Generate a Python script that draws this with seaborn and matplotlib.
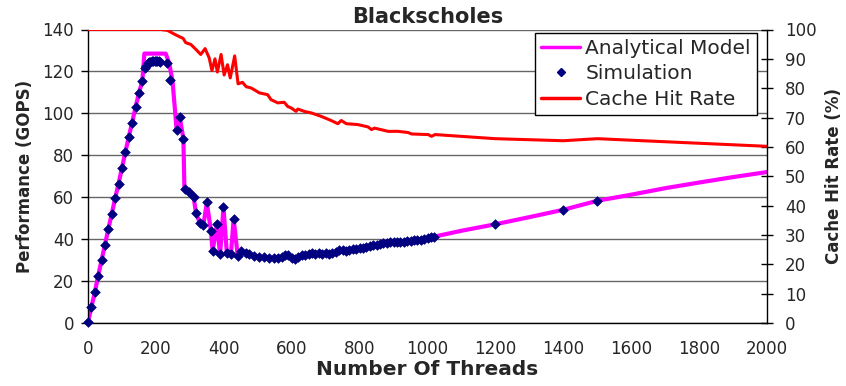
import matplotlib
matplotlib.use("Agg")
import matplotlib.pyplot as plt
import seaborn as sns
from matplotlib.lines import Line2D

# ---- data ----
sim_threads = [0, 10, 20, 30, 40, 50, 60, 70, 80, 90, 100, 110, 120, 130, 140, 150, 160, 167,
               172, 176, 180, 184, 188, 192, 196, 200, 204, 208, 212, 232, 242,
               261, 270, 281, 285, 298, 311, 318, 330, 340, 350, 362, 367, 380, 389, 399,
               409, 421, 429, 441, 452, 465, 475, 490, 505, 519, 534, 549, 560,
               570, 580, 590, 600, 610, 620, 630, 640, 650, 660, 670, 680, 690, 700,
               710, 720, 730, 740, 750, 760, 770, 780, 790, 800, 810, 820, 830, 840,
               850, 860, 870, 880, 890, 900, 910, 920, 930, 940, 950, 960, 970, 980,
               990, 1000, 1010, 1020, 1200, 1400, 1500]
sim_gops = [0.6, 7.5, 14.7, 22.5, 30.0, 37.4, 44.9, 52.2, 59.5, 66.5, 74.0, 81.5, 88.8, 95.6, 103.0, 109.6, 115.5, 121.6,
            122.8, 123.8, 124.3, 124.6, 124.8, 125.0, 125.0, 125.0, 125.0, 124.8, 124.6, 124.0, 115.8,
            92.2, 98.3, 87.8, 64.0, 62.7, 60.3, 52.4, 47.6, 46.8, 57.5, 44.0, 34.4, 47.3, 32.8, 55.1,
            33.3, 33.0, 49.7, 32.0, 34.5, 33.3, 32.8, 32.0, 31.4, 31.4, 31.2, 31.0, 30.9,
            31.5, 32.6, 32.4, 31.2, 30.5, 31.6, 32.4, 32.2, 33.0, 33.3, 32.8, 33.2, 33.0, 33.4,
            33.0, 33.2, 33.8, 34.6, 34.9, 34.4, 34.6, 35.2, 35.4, 35.8, 36.0, 36.4, 36.6, 37.2,
            37.2, 37.6, 38.0, 38.2, 38.4, 38.4, 38.6, 38.8, 38.8, 39.0, 39.2, 39.4, 39.6, 39.8,
            40.2, 40.6, 40.8, 41.2, 47.1, 54.0, 58.3]

model_threads = [0, 10, 20, 30, 40, 50, 60, 70, 80, 90, 100, 110, 120, 130, 140, 150, 160, 166,
                 229, 239, 249, 257, 261, 270, 281, 284,
                 298, 311, 318, 330, 340, 350, 362, 367, 380, 389, 399,
                 409, 421, 429, 441, 452, 465, 475, 490, 505, 519, 534, 549, 560,
                 580, 600, 620, 640, 660, 680, 700, 720, 740, 760, 780, 800, 820, 840,
                 860, 880, 900, 920, 940, 960, 980, 1000, 1020,
                 1100, 1200, 1300, 1400, 1500, 1600, 1700, 1800, 1900, 2000]
model_gops = [0.6, 7.5, 14.7, 22.5, 30.0, 37.4, 44.9, 52.2, 59.5, 66.5, 74.0, 81.5, 88.8, 95.6, 103.0, 109.6, 115.5, 128.5,
              128.5, 124.0, 115.3, 100.0, 92.2, 98.3, 87.8, 64.0,
              62.7, 60.3, 52.4, 47.6, 46.8, 57.5, 44.0, 34.4, 47.3, 32.8, 55.1,
              33.3, 33.0, 49.7, 32.0, 34.5, 33.3, 32.8, 32.0, 31.4, 31.4, 31.2, 31.0, 30.9,
              32.4, 31.2, 31.6, 32.2, 33.3, 33.2, 33.4, 33.2, 34.6, 34.4, 35.2, 35.8, 36.4, 37.2,
              37.6, 38.2, 38.4, 38.8, 39.0, 39.4, 39.8, 40.6, 41.2,
              44.0, 47.1, 50.5, 54.0, 58.3, 61.2, 64.3, 67.0, 69.6, 72.0]

cache_threads = [0, 214, 234, 253, 270, 280, 288, 303, 318, 332, 345, 357, 365, 374, 381, 392,
                 401, 411, 419, 432, 442, 455, 466, 480, 505, 529, 539, 559, 578, 588, 598,
                 613, 618, 637, 657, 687, 716, 736, 746, 761, 795, 825, 835, 844, 884, 913,
                 943, 953, 1002, 1012, 1022, 1200, 1400, 1500, 2000]
cache_rate = [100.0, 100.0, 99.7, 98.5, 97.5, 97.0, 95.5, 94.9, 93.2, 91.5, 93.5, 90.3, 86.0, 90.0, 85.5, 91.5,
              84.5, 88.0, 83.5, 91.0, 81.5, 82.0, 80.5, 80.1, 78.4, 77.8, 76.1, 75.0, 75.2, 73.8, 73.3,
              72.1, 72.9, 72.1, 71.6, 70.4, 69.0, 67.9, 69.0, 67.9, 67.6, 66.8, 65.9, 66.4, 65.3, 65.3,
              64.9, 64.4, 64.2, 63.6, 64.2, 62.8, 62.1, 62.8, 60.2]

x_ticks = [0, 200, 400, 600, 800, 1000, 1200, 1400, 1600, 1800, 2000]
left_ticks = [0, 20, 40, 60, 80, 100, 120, 140]
right_ticks = [0, 10, 20, 30, 40, 50, 60, 70, 80, 90, 100]

# ---- style ----
sns.set_style("white")
plt.rcParams['font.family'] = ['DejaVu Sans']

MAGENTA = '#FF00FF'
NAVY = '#000080'
RED = '#FF0000'

W, H = 846, 386
fig = plt.figure(figsize=(W / 100, H / 100), dpi=100)
ax = fig.add_axes([88 / W, 1 - 323 / H, (767 - 88) / W, (323 - 29.5) / H])
ax2 = ax.twinx()

for t in left_ticks:
    ax.axhline(t, color='#666666', lw=1.0, zorder=0.5)

sns.lineplot(x=model_threads, y=model_gops, ax=ax, color=MAGENTA, lw=3.0,
             sort=False, estimator=None, zorder=2)
sns.scatterplot(x=sim_threads, y=sim_gops, ax=ax, color=NAVY, marker='D', s=24,
                edgecolor=NAVY, linewidth=0.5, zorder=3, clip_on=False)
sns.lineplot(x=cache_threads, y=cache_rate, ax=ax2, color=RED, lw=2.2,
             sort=False, estimator=None, zorder=2)

ax.set_xlim(0, 2000)
ax.set_ylim(0, 140)
ax2.set_ylim(0, 100)
ax.set_xticks(x_ticks)
ax.set_yticks(left_ticks)
ax2.set_yticks(right_ticks)
ax.set_xticklabels([str(v) for v in x_ticks], fontsize=12)
ax.set_yticklabels([str(v) for v in left_ticks], fontsize=12)
ax2.set_yticklabels([str(v) for v in right_ticks], fontsize=12)

ax.tick_params(axis='x', direction='out', length=5, width=1, color='black', pad=7)
ax.tick_params(axis='y', direction='out', length=5, width=1, color='black', pad=5)
ax2.tick_params(axis='y', direction='inout', length=8, width=1, color='black', pad=9)

for a in (ax, ax2):
    a.spines['top'].set_visible(False)
    for s in ('left', 'right', 'bottom'):
        a.spines[s].set_color('black')
        a.spines[s].set_linewidth(1.0)
ax.spines['right'].set_visible(False)
ax2.spines['left'].set_visible(False)
ax2.spines['bottom'].set_visible(False)

ax.set_title('Blackscholes', fontsize=15, fontweight='bold', pad=5)
ax.set_xlabel('Number Of Threads', fontsize=14.5, fontweight='bold', labelpad=2)
ax.set_ylabel('Performance (GOPS)', fontsize=12, fontweight='bold', labelpad=6)
ax2.set_ylabel('Cache Hit Rate (%)', fontsize=12, fontweight='bold', labelpad=6)

handles = [Line2D([], [], color=MAGENTA, lw=2.5),
           Line2D([], [], color=NAVY, marker='D', ms=4, ls='none'),
           Line2D([], [], color=RED, lw=2.5)]
leg = ax2.legend(handles, ['Analytical Model', 'Simulation', 'Cache Hit Rate'],
                 loc='upper right', bbox_to_anchor=(757 / W, 1 - 33 / H),
                 bbox_transform=fig.transFigure, fontsize=14.5,
                 frameon=True, fancybox=False, edgecolor='black', framealpha=1,
                 handlelength=1.95, handletextpad=0.25, borderpad=0.3, labelspacing=0.32,
                 borderaxespad=0)
leg.get_frame().set_linewidth(1.0)
leg.set_zorder(10)

fig.savefig('out.png', dpi=100)
